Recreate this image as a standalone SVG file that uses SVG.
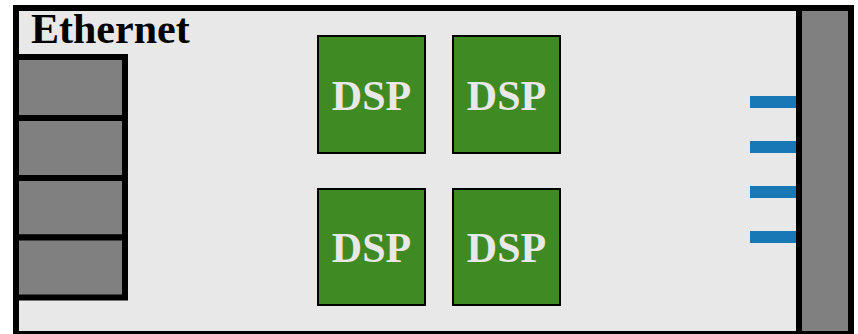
<svg xmlns="http://www.w3.org/2000/svg" width="858" height="334" viewBox="0 0 858 334">
  <style>
    .port { fill: #808080; stroke: #000; stroke-width: 6; }
    .dsp { fill: #3f8a22; stroke: #000; stroke-width: 2; }
    .dsplabel { font-family: "Liberation Serif", "Times New Roman", serif; font-weight: bold; font-size: 42px; fill: #e8e8e8; text-anchor: middle; }
    .bar { fill: #1878b6; }
  </style>
  <rect x="0" y="0" width="858" height="334" fill="#ffffff"/>
  <g id="board">
    <rect x="16" y="8" width="835" height="326" fill="#e8e8e8" stroke="#000" stroke-width="6"/>
  </g>
  <g id="right-panel">
    <rect x="799" y="8" width="52" height="326" fill="#808080" stroke="#000" stroke-width="6"/>
  </g>
  <g id="ethernet">
    <text x="31" y="43" font-family="Liberation Serif, Times New Roman, serif" font-weight="bold" font-size="42" fill="#000">Ethernet</text>
    <rect class="port" x="16" y="57" width="109" height="61"/>
    <rect class="port" x="16" y="118" width="109" height="60"/>
    <rect class="port" x="16" y="178" width="109" height="59.5"/>
    <rect class="port" x="16" y="237.5" width="109" height="60"/>
  </g>
  <g id="dsp1">
    <rect class="dsp" x="318" y="36" width="107" height="117"/>
    <text class="dsplabel" x="371.5" y="110">DSP</text>
  </g>
  <g id="dsp2">
    <rect class="dsp" x="453" y="36" width="107" height="117"/>
    <text class="dsplabel" x="506.5" y="110">DSP</text>
  </g>
  <g id="dsp3">
    <rect class="dsp" x="318" y="189" width="107" height="116"/>
    <text class="dsplabel" x="371.5" y="262">DSP</text>
  </g>
  <g id="dsp4">
    <rect class="dsp" x="453" y="189" width="107" height="116"/>
    <text class="dsplabel" x="506.5" y="262">DSP</text>
  </g>
  <g id="connectors">
    <rect class="bar" x="750" y="96" width="46" height="12"/>
    <rect class="bar" x="750" y="141" width="46" height="12"/>
    <rect class="bar" x="750" y="186" width="46" height="12"/>
    <rect class="bar" x="750" y="231" width="46" height="12"/>
  </g>
</svg>
